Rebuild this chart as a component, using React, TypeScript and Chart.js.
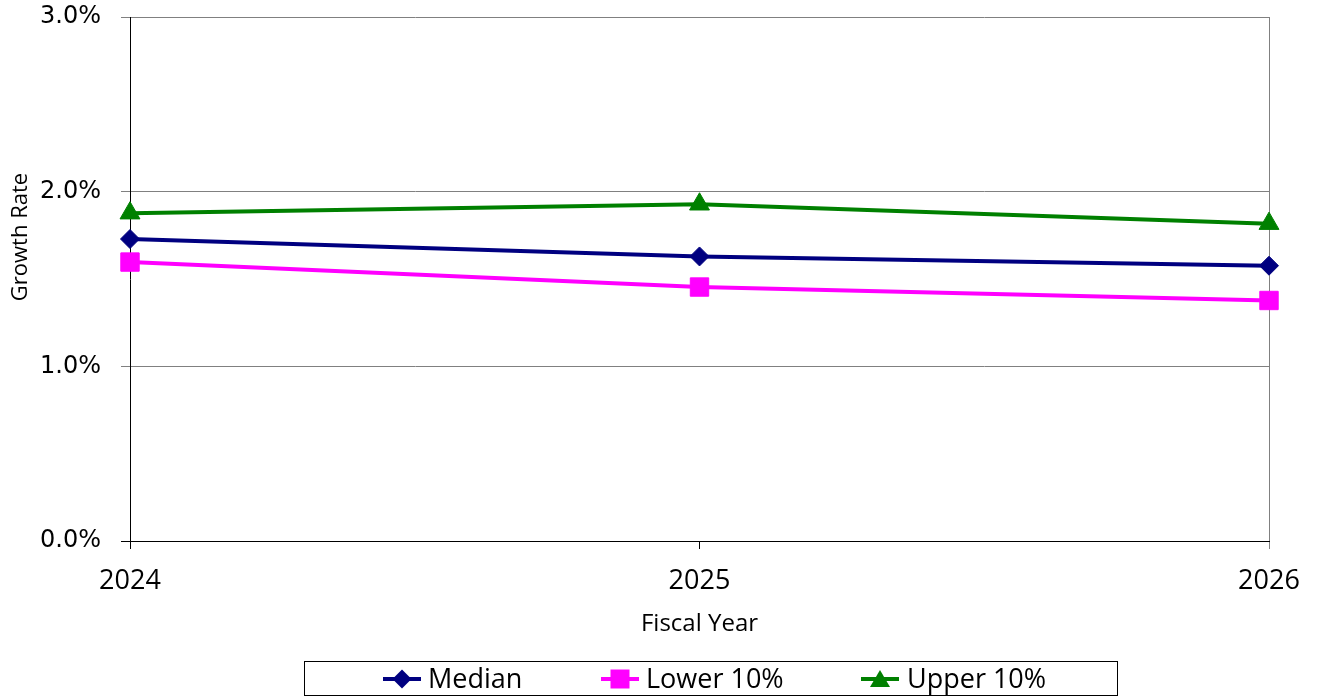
import React, { useEffect, useRef } from 'react';
import { Chart, registerables } from 'chart.js';

Chart.register(...registerables);

const years = ['2024', '2025', '2026'];
const median = [1.729, 1.629, 1.576];
const lower = [1.597, 1.454, 1.377];
const upper = [1.877, 1.928, 1.817];
const seriesNames = ['Median', 'Lower 10%', 'Upper 10%'];
const seriesColors = ['#000080', '#FF00FF', '#008000'];
const yTitle = 'Growth Rate';
const xTitle = 'Fiscal Year';

function drawMarker(ctx: CanvasRenderingContext2D, style: string, x: number, y: number, color: string) {
  ctx.save();
  ctx.fillStyle = color;
  ctx.beginPath();
  if (style === 'rectRot') {
    const r = 9.5;
    ctx.moveTo(x - r, y);
    ctx.lineTo(x, y - r);
    ctx.lineTo(x + r, y);
    ctx.lineTo(x, y + r);
  } else if (style === 'rect') {
    const s = 9.5;
    ctx.rect(x - s, y - s, 2 * s, 2 * s);
  } else {
    const w = 10;
    ctx.moveTo(x, y - 9);
    ctx.lineTo(x + w, y + 8);
    ctx.lineTo(x - w, y + 8);
  }
  ctx.closePath();
  ctx.fill();
  ctx.restore();
}

const customPlugin = {
  id: 'customDecor',
  afterDraw(chart: any) {
    const ctx: CanvasRenderingContext2D = chart.ctx;
    ctx.save();
    ctx.fillStyle = '#000';
    ctx.font = '22px "Open Sans"';
    ctx.textAlign = 'center';
    ctx.textBaseline = 'middle';
    ctx.translate(21, 237);
    ctx.rotate(-Math.PI / 2);
    ctx.fillText(yTitle, 0, 0);
    ctx.restore();

    // legend
    ctx.save();
    ctx.strokeStyle = '#000';
    ctx.lineWidth = 1;
    ctx.strokeRect(304.5, 661.5, 813, 34);
    const items = [
      { lx: 383, tx: 428 },
      { lx: 601, tx: 646 },
      { lx: 861, tx: 907 },
    ];
    chart.data.datasets.forEach((ds: any, i: number) => {
      const it = items[i];
      const cy = 679;
      ctx.strokeStyle = ds.borderColor;
      ctx.lineWidth = 4;
      ctx.beginPath();
      ctx.moveTo(it.lx, cy);
      ctx.lineTo(it.lx + 38, cy);
      ctx.stroke();
      drawMarker(ctx, ds.pointStyle, it.lx + 19, cy, ds.borderColor);
      ctx.fillStyle = '#000';
      ctx.font = '27px "Open Sans"';
      ctx.textAlign = 'left';
      ctx.textBaseline = 'middle';
      ctx.fillText(ds.label, it.tx, cy + 1);
    });
    ctx.restore();
  },
};

export default function App() {
  const ref = useRef<HTMLCanvasElement>(null);
  useEffect(() => {
    if (!ref.current) return;
    const chart = new Chart(ref.current, {
      type: 'line',
      data: {
        labels: years,
        datasets: [
          {
            label: seriesNames[0],
            data: median,
            borderColor: seriesColors[0],
            backgroundColor: seriesColors[0],
            borderWidth: 4,
            pointStyle: 'rectRot',
            pointRadius: 9.5,
            pointBorderWidth: 1,
            tension: 0,
          },
          {
            label: seriesNames[1],
            data: lower,
            borderColor: seriesColors[1],
            backgroundColor: seriesColors[1],
            borderWidth: 4,
            pointStyle: 'rect',
            pointRadius: 13,
            pointBorderWidth: 1,
            tension: 0,
          },
          {
            label: seriesNames[2],
            data: upper,
            borderColor: seriesColors[2],
            backgroundColor: seriesColors[2],
            borderWidth: 4,
            pointStyle: 'triangle',
            pointRadius: 11.5,
            pointBorderWidth: 1,
            tension: 0,
          },
        ],
      },
      options: {
        responsive: false,
        animation: false,
        layout: { padding: { top: 17, right: 51, bottom: 59, left: 0 } },
        plugins: {
          legend: { display: false },
          tooltip: { enabled: false },
        },
        scales: {
          x: {
            offset: false,
            afterFit: (s: any) => { s.height = 98; s.paddingLeft = 0; s.paddingRight = 0; },
            border: { color: '#000', width: 1 },
            grid: {
              drawOnChartArea: true,
              tickLength: 8,
              color: (c: any) => (c.index === 2 ? '#808080' : 'rgba(0,0,0,0)'),
              tickColor: (c: any) => (c.index === 2 ? '#808080' : '#000'),
            },
            ticks: {
              color: '#000',
              padding: 16,
              font: { family: '"Open Sans"', size: 27 },
              maxRotation: 0,
            },
            title: {
              display: true,
              text: xTitle,
              color: '#000',
              font: { family: '"Open Sans"', size: 24 },
              padding: 0,
            },
          },
          y: {
            min: 0,
            max: 3,
            afterFit: (s: any) => { s.width = 130; s.paddingTop = 0; s.paddingBottom = 0; },
            border: { color: '#000', width: 1 },
            grid: {
              color: (c: any) => (c.tick && c.tick.value === 0 ? '#000' : '#808080'),
              tickLength: 9,
            },
            ticks: {
              stepSize: 1,
              color: '#000',
              padding: 20,
              font: { family: '"DejaVu Sans"', size: 24 },
              callback: (v: any) => Number(v).toFixed(1) + '%',
            },
          },
        },
      },
      plugins: [customPlugin],
    });
    return () => chart.destroy();
  }, []);
  return (
    <div style={{ position: 'fixed', left: 0, top: 0, width: 1320, height: 698, background: '#fff' }}>
      <canvas ref={ref} width={1320} height={698} />
    </div>
  );
}
